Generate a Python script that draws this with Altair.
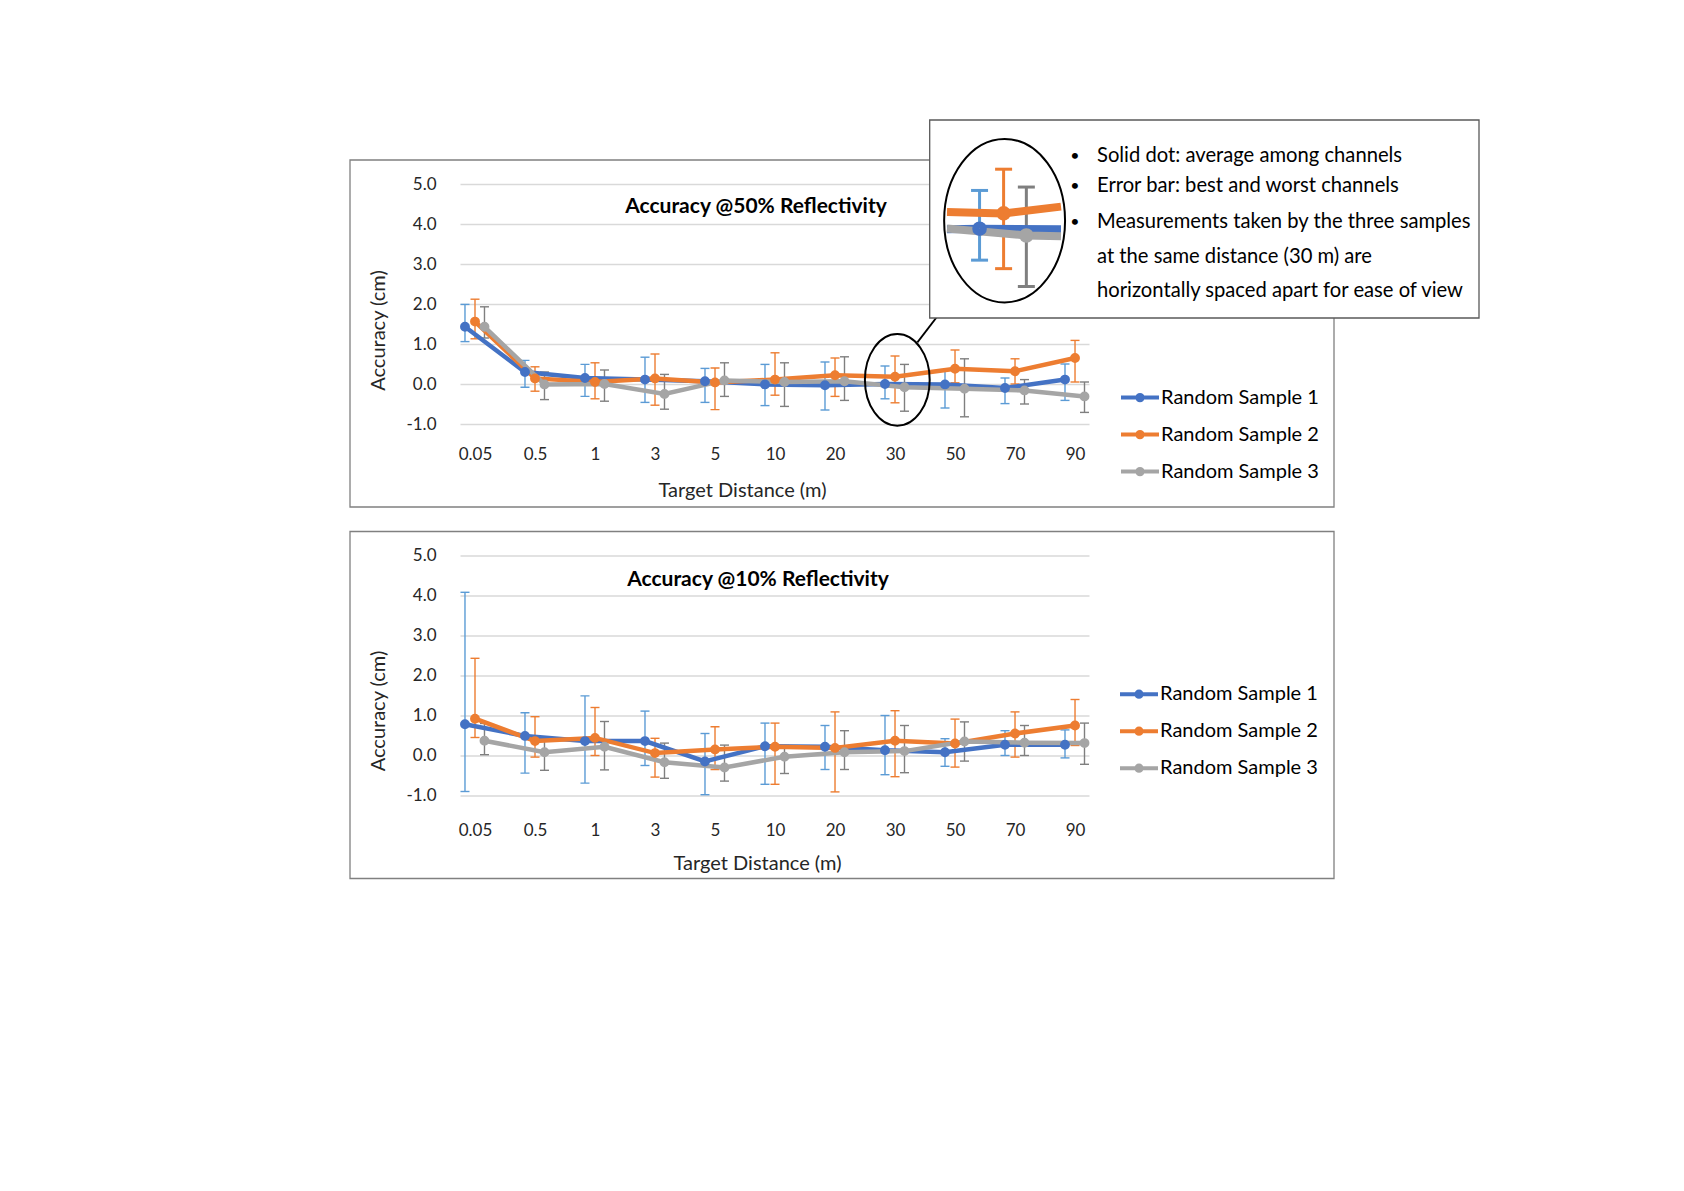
import altair as alt
import pandas as pd

# ---------------- data ----------------
DIST_LABELS = ["0.05", "0.5", "1", "3", "5", "10", "20", "30", "50", "70", "90"]
SERIES = ["Random Sample 1", "Random Sample 2", "Random Sample 3"]
LINE_COLORS = ["#4472C4", "#ED7D31", "#A5A5A5"]
BAR_COLORS = ["#5B9BD5", "#ED7D31", "#7F7F7F"]

# Accuracy @50% reflectivity (cm): average, best/worst channel
R50_S1 = [1.43, 0.30, 0.15, 0.11, 0.07, -0.01, -0.03, 0.00, -0.01, -0.10, 0.11]
R50_S1_HI = [1.99, 0.59, 0.49, 0.67, 0.39, 0.49, 0.55, 0.45, 0.36, 0.15, 0.50]
R50_S1_LO = [1.06, -0.08, -0.31, -0.46, -0.46, -0.54, -0.65, -0.37, -0.60, -0.49, -0.41]
R50_S2 = [1.56, 0.14, 0.05, 0.14, 0.04, 0.11, 0.22, 0.18, 0.38, 0.32, 0.65]
R50_S2_HI = [2.12, 0.43, 0.53, 0.75, 0.40, 0.78, 0.65, 0.70, 0.85, 0.63, 1.09]
R50_S2_LO = [1.13, -0.18, -0.37, -0.53, -0.64, -0.28, -0.31, -0.47, 0.03, 0.00, 0.05]
R50_S3 = [1.43, -0.01, 0.00, -0.25, 0.09, 0.05, 0.07, -0.08, -0.12, -0.16, -0.31]
R50_S3_HI = [1.93, 0.30, 0.35, 0.24, 0.53, 0.53, 0.68, 0.49, 0.63, 0.11, 0.05]
R50_S3_LO = [1.15, -0.39, -0.43, -0.63, -0.31, -0.56, -0.41, -0.68, -0.82, -0.50, -0.71]

# Accuracy @10% reflectivity (cm)
R10_S1 = [0.78, 0.49, 0.36, 0.36, -0.15, 0.23, 0.22, 0.13, 0.08, 0.27, 0.27]
R10_S1_HI = [4.08, 1.07, 1.49, 1.11, 0.55, 0.81, 0.75, 1.00, 0.42, 0.62, 0.64]
R10_S1_LO = [-0.90, -0.44, -0.69, -0.25, -0.98, -0.72, -0.35, -0.48, -0.27, 0.00, -0.06]
R10_S2 = [0.92, 0.36, 0.44, 0.06, 0.15, 0.22, 0.19, 0.37, 0.30, 0.55, 0.75]
R10_S2_HI = [2.43, 0.97, 1.20, 0.43, 0.72, 0.81, 1.09, 1.12, 0.91, 1.09, 1.40]
R10_S2_LO = [0.45, -0.04, 0.00, -0.54, -0.35, -0.72, -0.91, -0.53, -0.29, -0.04, 0.25]
R10_S3 = [0.37, 0.08, 0.22, -0.17, -0.30, -0.03, 0.08, 0.11, 0.35, 0.32, 0.31]
R10_S3_HI = [0.80, 0.45, 0.85, 0.31, 0.26, 0.25, 0.62, 0.75, 0.84, 0.75, 0.81]
R10_S3_LO = [0.02, -0.37, -0.36, -0.57, -0.64, -0.45, -0.35, -0.43, -0.14, 0.00, -0.22]

TITLE_50 = "Accuracy @50% Reflectivity"
TITLE_10 = "Accuracy @10% Reflectivity"
X_TITLE = "Target Distance (m)"
Y_TITLE = "Accuracy (cm)"
NOTE_LINES = [
    "Solid dot: average among channels",
    "Error bar: best and worst channels",
    "Measurements taken by the three samples",
    "at the same distance (30 m) are",
    "horizontally spaced apart for ease of view",
]
ZOOM_DIST = "30"

# ---------------- styling ----------------
FONT = "Lato"
TXT = "#262626"
PLOT_W, PLOT_H = 629, 240
OFFSETS = [-0.167, 0.0, 0.158]  # horizontal spacing of the three samples (index units)


def ell(rx, ry):
    k = 0.5523
    f = lambda v: f"{v:.4f}"
    return (f"M{f(rx)},0C{f(rx)},{f(k*ry)},{f(k*rx)},{f(ry)},0,{f(ry)}"
            f"C{f(-k*rx)},{f(ry)},{f(-rx)},{f(k*ry)},{f(-rx)},0"
            f"C{f(-rx)},{f(-k*ry)},{f(-k*rx)},{f(-ry)},0,{f(-ry)}"
            f"C{f(k*rx)},{f(-ry)},{f(rx)},{f(-k*ry)},{f(rx)},0Z")


LEG_SYM = "M-1,0L1,0" + ell(0.14, 0.14) + ell(0.05, 0.05)


def long_table(avgs, his, los):
    rows = []
    for s, off, a, h, l in zip(SERIES, OFFSETS, avgs, his, los):
        for i, lab in enumerate(DIST_LABELS):
            rows.append({"series": s, "dist": lab, "xpos": i + off,
                         "acc": a[i], "hi": h[i], "lo": l[i]})
    return pd.DataFrame(rows)


df50 = long_table([R50_S1, R50_S2, R50_S3], [R50_S1_HI, R50_S2_HI, R50_S3_HI], [R50_S1_LO, R50_S2_LO, R50_S3_LO])
df10 = long_table([R10_S1, R10_S2, R10_S3], [R10_S1_HI, R10_S2_HI, R10_S3_HI], [R10_S1_LO, R10_S2_LO, R10_S3_LO])

X_SCALE = alt.Scale(domain=[-0.25, 10.233], nice=False, zero=False)
Y_SCALE = alt.Scale(domain=[-1, 5], nice=False, zero=False)
LABEL_EXPR_X = "[" + ",".join(f"'{l}'" for l in DIST_LABELS) + "][round(datum.value)]"
LABEL_EXPR_Y = "datum.value < 0 ? '-' + format(-datum.value, '.1f') : format(datum.value, '.1f')"


def axis_x(pad, tx, ty):
    return alt.Axis(values=list(range(len(DIST_LABELS))), labelExpr=LABEL_EXPR_X, grid=False,
                    domain=False, ticks=False, labelPadding=pad, labelFontSize=17, labelFont=FONT,
                    labelColor=TXT, labelFlush=False, labelOverlap=False,
                    title=X_TITLE, titleFont=FONT, titleFontSize=20, titleFontWeight="normal",
                    titleColor=TXT, titleX=tx, titleY=ty, titleAlign="center", titleBaseline="middle")


def axis_y(ty):
    return alt.Axis(values=[-1, 0, 1, 2, 3, 4, 5], labelExpr=LABEL_EXPR_Y, grid=True,
                    gridColor="#D9D9D9", gridWidth=1.3, domain=False, ticks=False, labelPadding=24,
                    labelFontSize=17, labelFont=FONT, labelColor=TXT,
                    title=Y_TITLE, titleFont=FONT, titleFontSize=20, titleFontWeight="normal",
                    titleColor=TXT, titleX=-82, titleY=ty, titleAlign="center",
                    titleBaseline="middle", titleAngle=270)


def legend(lx, ly):
    return alt.Legend(title=None, orient="none", legendX=lx, legendY=ly, symbolType=LEG_SYM,
                      symbolSize=1444, symbolStrokeWidth=4, symbolOpacity=1, labelFont=FONT,
                      labelFontSize=20, labelColor="black", labelOffset=0, labelLimit=400,
                      rowPadding=5, padding=0)


def color_enc(leg):
    return alt.Color("series:N", scale=alt.Scale(domain=SERIES, range=LINE_COLORS), legend=leg)


def main_layer(df, ax_x, ax_y, leg):
    base = alt.Chart(df)
    X = alt.X("xpos:Q", scale=X_SCALE, axis=ax_x)

    def Y(f):
        return alt.Y(f"{f}:Q", scale=Y_SCALE, axis=ax_y)

    layers = []
    for s, bc in zip(SERIES, BAR_COLORS):
        sub = base.transform_filter(alt.datum.series == s)
        layers.append(sub.mark_rule(strokeWidth=1.4, color=bc).encode(x=X, y=Y("lo"), y2="hi:Q"))
        layers.append(sub.mark_tick(orient="horizontal", size=9, thickness=1.4, opacity=1,
                                    color=bc).encode(x=X, y=Y("lo")))
        layers.append(sub.mark_tick(orient="horizontal", size=9, thickness=1.4, opacity=1,
                                    color=bc).encode(x=X, y=Y("hi")))
    col = color_enc(leg)
    layers.append(base.mark_line(strokeWidth=4.5).encode(x=X, y=Y("acc"), color=col))
    layers.append(base.mark_point(filled=False, size=24, strokeWidth=5, opacity=1).encode(
        x=X, y=Y("acc"), color=col))
    return alt.layer(*layers)


def frame():
    return alt.Chart().mark_rect(fillOpacity=0, stroke="#808080", strokeWidth=1.3).encode(
        x=alt.value(-110), x2=alt.value(874), y=alt.value(-24), y2=alt.value(323))


def panel_title(txt, x, y):
    return alt.Chart().mark_text(text=txt, font=FONT, fontSize=21, fontWeight="bold",
                                 align="center", baseline="middle", color="black").encode(
        x=alt.value(x), y=alt.value(y))


# ---------------- magnified lens (30 m, 50% reflectivity) ----------------
c = DIST_LABELS.index(ZOOM_DIST)
ZX0, ZX1 = 399.6, 687.6          # pixel range for index c-1 .. c+1
ZPX = (ZX1 - ZX0) / 2.0
LENS_L = c - 1 + (487 - ZX0) / ZPX
LENS_R = c - 1 + (601 - ZX0) / ZPX
ZX_SCALE = alt.Scale(domain=[c - 1, c + 1], range=[ZX0, ZX1], nice=False, zero=False)
ZY_SCALE = alt.Scale(domain=[-1, 1], range=[129.7, -40.3], nice=False, zero=False)

avg50 = [R50_S1, R50_S2, R50_S3]
hi50 = [R50_S1_HI, R50_S2_HI, R50_S3_HI]
lo50 = [R50_S1_LO, R50_S2_LO, R50_S3_LO]
zp_rows, zl_rows = [], []
for s, off, a, h, l in zip(SERIES, OFFSETS, avg50, hi50, lo50):
    xc = c + off
    zp_rows.append({"series": s, "zx": xc, "acc": a[c], "hi": h[c], "lo": l[c]})
    # the lens clips the connecting segments towards the neighbouring distances
    vl = a[c] + (a[c - 1] - a[c]) * (xc - LENS_L)
    vr = a[c] + (a[c + 1] - a[c]) * (LENS_R - xc)
    zl_rows += [{"series": s, "zx": LENS_L, "acc": vl, "k": 0},
                {"series": s, "zx": xc, "acc": a[c], "k": 1},
                {"series": s, "zx": LENS_R, "acc": vr, "k": 2}]
zp = pd.DataFrame(zp_rows)
zl = pd.DataFrame(zl_rows)

LEG50 = legend(659, 192.6)
ZX = alt.X("zx:Q", scale=ZX_SCALE, axis=None)


def ZY(f):
    return alt.Y(f"{f}:Q", scale=ZY_SCALE, axis=None)


zlayers = []
zbase = alt.Chart(zp)
for s, bc in zip(SERIES, BAR_COLORS):
    sub = zbase.transform_filter(alt.datum.series == s)
    zlayers.append(sub.mark_rule(strokeWidth=3, color=bc).encode(x=ZX, y=ZY("lo"), y2="hi:Q"))
    zlayers.append(sub.mark_tick(orient="horizontal", size=17, thickness=3, opacity=1,
                                 color=bc).encode(x=ZX, y=ZY("lo")))
    zlayers.append(sub.mark_tick(orient="horizontal", size=17, thickness=3, opacity=1,
                                 color=bc).encode(x=ZX, y=ZY("hi")))
zlayers.append(alt.Chart(zl).mark_line(strokeWidth=8, strokeCap="butt").encode(
    x=ZX, y=ZY("acc"), color=color_enc(LEG50), order="k:O"))
zlayers.append(zbase.mark_point(filled=False, size=50, strokeWidth=7.5, opacity=1).encode(
    x=ZX, y=ZY("acc"), color=color_enc(LEG50)))
zoom_layer = alt.layer(*zlayers)

inset_box = alt.Chart().mark_rect(fill="white", stroke="#595959", strokeWidth=1.3).encode(
    x=alt.value(469.7), x2=alt.value(1019), y=alt.value(-64), y2=alt.value(134))
lens = alt.Chart().mark_point(shape=ell(0.74, 1.0), size=(2 * 81.7) ** 2, filled=False,
                              color="black", strokeWidth=2, opacity=1).encode(
    x=alt.value(544.6), y=alt.value(36.7))
small_ring = alt.Chart().mark_point(shape=ell(0.707, 1.0), size=(2 * 45.8) ** 2, filled=False,
                                    color="black", strokeWidth=2, opacity=1).encode(
    x=alt.value(437.3), y=alt.value(195.9))
callout = alt.Chart().mark_rule(color="black", strokeWidth=1.8).encode(
    x=alt.value(457.4), y=alt.value(158.4), x2=alt.value(504.6), y2=alt.value(96.7))

NOTE_Y = [-27.9, 2.4, 38.0, 72.5, 107.1]
notes = []
for i, (line, yy) in enumerate(zip(NOTE_LINES, NOTE_Y)):
    notes.append(alt.Chart().mark_text(text=line, font=FONT, fontSize=20.2, align="left",
                                       baseline="middle", color="black").encode(
        x=alt.value(637), y=alt.value(yy)))
    if i < 3:
        notes.append(alt.Chart().mark_text(text="•", font=FONT, fontSize=16, align="center",
                                           baseline="middle", color="black").encode(
            x=alt.value(615), y=alt.value(yy)))

top = alt.layer(
    frame(),
    main_layer(df50, axis_x(22, 282, 66), axis_y(146), LEG50),
    panel_title(TITLE_50, 296, 22.7),
    small_ring,
    callout,
    inset_box,
    zoom_layer,
    lens,
    *notes,
).resolve_scale(x="independent", y="independent").properties(width=PLOT_W, height=PLOT_H)

bottom = alt.layer(
    frame(),
    main_layer(df10, axis_x(26.5, 297, 68), axis_y(155), legend(658, 117.7)),
    panel_title(TITLE_10, 298, 24),
).properties(width=PLOT_W, height=PLOT_H)

chart = alt.vconcat(top, bottom, spacing=22.5).resolve_scale(
    color="independent"
).resolve_legend(color="independent").properties(
    padding={"left": 341, "top": 111, "right": 10, "bottom": 10}
).configure(font=FONT).configure_view(stroke=None)

chart.save("out.html", embed_options={"renderer": "svg", "actions": False})
